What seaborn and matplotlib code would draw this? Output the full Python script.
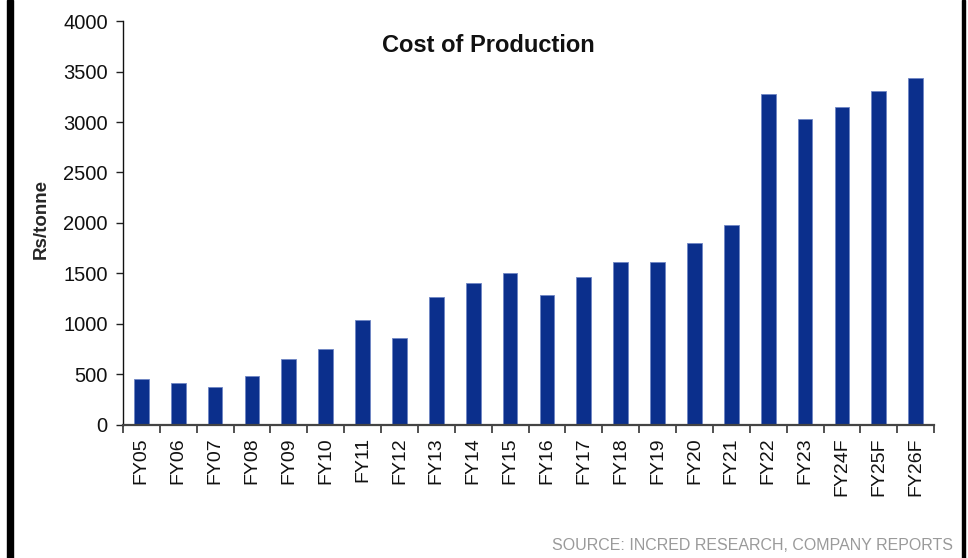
import matplotlib
matplotlib.use("Agg")
import matplotlib.pyplot as plt
from matplotlib.ticker import FixedLocator
import seaborn as sns
import pandas as pd
import numpy as np

years = ["FY05", "FY06", "FY07", "FY08", "FY09", "FY10", "FY11", "FY12", "FY13",
         "FY14", "FY15", "FY16", "FY17", "FY18", "FY19", "FY20", "FY21", "FY22",
         "FY23", "FY24F", "FY25F", "FY26F"]
cost = [452, 416, 376, 485, 650, 752, 1035, 857, 1269, 1405, 1501, 1283, 1465,
        1610, 1610, 1805, 1977, 3274, 3033, 3152, 3304, 3432]
y_ticks = [0, 500, 1000, 1500, 2000, 2500, 3000, 3500, 4000]

sns.set_theme(style="white")
plt.rcParams["font.family"] = ["Liberation Sans", "DejaVu Sans"]

df = pd.DataFrame({"year": years, "cost": cost})

fig = plt.figure(figsize=(9.68, 5.58), dpi=100)
ax = fig.add_axes([0.127, 0.239, 0.838, 0.723])

sns.barplot(data=df, x="year", y="cost", color="#0B2F8C", saturation=1,
            width=0.4, ax=ax, edgecolor="#6F86C4", linewidth=0.6)

ax.set_ylim(0, 4000)
ax.set_xlim(-0.5, len(years) - 0.5)
ax.set_yticks(y_ticks)
ax.set_yticklabels([str(v) for v in y_ticks], fontsize=14.5, color="#111111")
ax.set_xticks(range(len(years)))
ax.set_xticklabels(years, rotation=90, fontsize=14, color="#111111")
ax.xaxis.set_minor_locator(FixedLocator(np.arange(-0.5, len(years), 1.0)))
ax.tick_params(axis="x", which="major", length=0, pad=9)
ax.tick_params(axis="x", which="minor", length=6, width=1.2, color="#333333",
               direction="out", bottom=True)
ax.tick_params(axis="y", length=5, width=1, color="#222222", direction="out",
               left=True, pad=6)

ax.set_xlabel("")
ax.set_ylabel("Rs/tonne", fontsize=13.5, fontweight="bold")
ax.yaxis.set_label_coords(-0.09, 0.51)
ax.set_title("")
fig.text(488 / 968, 1 - 45 / 558, "Cost of Production", ha="center",
         va="center", fontsize=17, fontweight="bold", color="#111111")

for side in ["top", "right"]:
    ax.spines[side].set_visible(False)
ax.spines["left"].set_color("#111111")
ax.spines["left"].set_linewidth(1.0)
ax.spines["bottom"].set_color("#444444")
ax.spines["bottom"].set_linewidth(1.6)

# frame bars along the page edges
fig.patches.append(plt.Rectangle((7 / 968, 0), 6 / 968, 1, transform=fig.transFigure,
                                 color="black", zorder=5))
fig.patches.append(plt.Rectangle((962 / 968, 0), 3 / 968, 1,
                                 transform=fig.transFigure, color="black", zorder=5))

fig.text(953 / 968, 1 - 545 / 558, "SOURCE: INCRED RESEARCH, COMPANY REPORTS",
         ha="right", va="center", fontsize=11.5, color="#9A9A9A")

fig.savefig("out.png", dpi=100, facecolor="white")
